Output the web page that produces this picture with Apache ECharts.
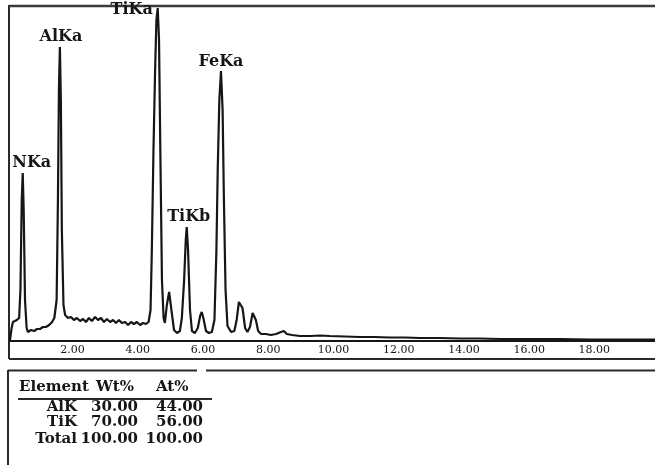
<!DOCTYPE html>
<html><head><meta charset="utf-8">
<script src="https://cdn.jsdelivr.net/npm/echarts@6/dist/echarts.min.js"></script>
<style>html,body{margin:0;padding:0;background:#fff}#c{width:655px;height:465px}</style>
</head><body><div id="c"></div>
<script>
// Energy (keV) and counts
const energyKeV = [0.08,0.13,0.17,0.23,0.29,0.36,0.40,0.44,0.47,0.50,0.54,0.59,0.63,0.72,0.82,0.91,1.00,1.09,1.18,1.28,1.37,1.44,1.51,1.55,1.58,1.61,1.64,1.67,1.72,1.77,1.86,1.95,2.04,2.13,2.23,2.32,2.41,2.50,2.59,2.69,2.78,2.87,2.96,3.05,3.15,3.24,3.33,3.42,3.51,3.61,3.70,3.79,3.88,3.97,4.07,4.16,4.25,4.33,4.39,4.43,4.48,4.53,4.57,4.61,4.65,4.69,4.74,4.79,4.83,4.89,4.96,5.03,5.11,5.20,5.29,5.35,5.42,5.47,5.50,5.54,5.60,5.66,5.75,5.84,5.91,5.96,6.01,6.09,6.18,6.27,6.35,6.41,6.45,6.50,6.55,6.60,6.64,6.69,6.75,6.86,6.96,7.03,7.10,7.15,7.21,7.29,7.36,7.44,7.52,7.56,7.62,7.69,7.78,7.93,8.08,8.24,8.39,8.48,8.57,8.73,8.97,9.28,9.59,9.89,10.35,10.81,11.27,11.73,12.19,12.65,13.26,13.88,14.49,15.11,16.03,16.95,17.87,18.79,19.86];
const counts = [1,13,19,20,21,23,51,141,168,131,41,13,9,11,10,12,12,14,14,16,19,23,41,141,251,294,241,111,36,26,23,24,21,23,20,22,19,23,20,24,21,23,19,22,19,21,18,21,18,19,16,19,17,19,16,18,17,19,31,91,191,271,321,333,301,191,61,23,18,36,49,31,11,8,10,23,61,101,114,91,31,10,8,13,25,29,23,10,8,9,21,91,171,241,270,231,141,51,15,9,10,21,39,41,33,13,9,14,28,30,21,10,7,7,6,7,9,10,7,6,5,5,5.5,5,4.5,4,4,3.5,3.5,3,3,2.5,2.5,2,2,2,1.5,1.5,1.5];
const tickValues = [2,4,6,8,10,12,14,16,18];
const peakNames = ['NKa','AlKa','TiKa','TiKb','FeKa'];
const peakEnergy = [0.47,1.61,4.61,5.50,6.55];
const tableHeader = ['Element','Wt%','At%'];
const tableElement = ['AlK','TiK','Total'];
const tableWt = ['30.00','70.00','100.00'];
const tableAt = ['44.00','56.00','100.00'];

const labelOffsets = [[9,-10],[1,-10],[-26,1.5],[2,-10.5],[0,-9]];
const ink = '#161616';
const serif = 'DejaVu Serif';

const markData = peakNames.map((n,i)=>{
  const idx = energyKeV.indexOf(peakEnergy[i]);
  return {name:n, coord:[peakEnergy[i], counts[idx]], label:{offset:labelOffsets[i]}};
});

const seriesData = energyKeV.map((e,i)=>[e,counts[i]]);

const graphics = [];
const line = (x1,y1,x2,y2,w,c)=>graphics.push({type:'line',shape:{x1,y1,x2,y2},style:{stroke:c||'#2a2a2a',lineWidth:w||2},silent:true});
// plot frame
line(9,6,655,6,2.5,'#3a3a3a');
line(9,5,9,359,2);
line(9,359,655,359,2);
// table frame
line(8,370.5,197,370.5,2);
line(206,370.5,655,370.5,2);
line(8,370,8,465,2);
// header underline
line(18,399,212,399,2);

const tfont = 'bold 15px "DejaVu Serif"';
const txt = (s,x,y,align)=>graphics.push({type:'text',x,y,style:{text:s,font:tfont,fill:ink,textAlign:align||'right',textVerticalAlign:'middle'},silent:true});
txt(tableHeader[0],19,387,'left');
txt(tableHeader[1],96,387,'left');
txt(tableHeader[2],156,387,'left');
const rowY = [407,422,439];
tableElement.forEach((el,i)=>{
  txt(el,77,rowY[i]);
  txt(tableWt[i],138,rowY[i]);
  txt(tableAt[i],203,rowY[i]);
});

const chart = echarts.init(document.getElementById('c'), null, {renderer:'canvas'});
chart.setOption({
  animation:false,
  backgroundColor:'#fff',
  grid:{left:10,right:0,top:6,bottom:124,containLabel:false},
  xAxis:{type:'value',min:0.08,max:19.86,
    axisLine:{show:true,lineStyle:{color:ink,width:2}},
    axisTick:{show:false},splitLine:{show:false},
    axisLabel:{customValues:tickValues,formatter:v=>v.toFixed(2),margin:4,fontFamily:serif,fontSize:11,color:ink}},
  yAxis:{type:'value',min:0,max:335,show:false,splitLine:{show:false}},
  series:[{type:'line',data:seriesData,showSymbol:false,symbol:'none',smooth:false,
    lineStyle:{color:ink,width:2.2},clip:true,
    markPoint:{symbol:'circle',symbolSize:0,silent:true,
      label:{show:true,position:'inside',formatter:p=>p.name,fontFamily:serif,fontWeight:'bold',fontSize:16,color:ink},
      data:markData}}],
  graphic:graphics
});
</script></body></html>
